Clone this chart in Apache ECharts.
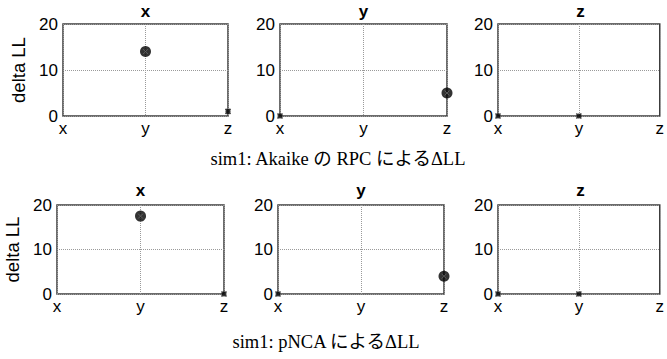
<!DOCTYPE html>
<html><head><meta charset="utf-8">
<script src="https://cdn.jsdelivr.net/npm/echarts@6/dist/echarts.min.js"></script>
<style>html,body{margin:0;padding:0;background:#fff}#c{width:667px;height:359px}</style>
</head><body><div id="c"></div>
<script>
const categories = ['x', 'y', 'z'];
const panelTitles = ['x', 'y', 'z'];
const yTicks = [0, 10, 20];
const captions = ['sim1: Akaike の RPC による\u0394LL', 'sim1: pNCA による\u0394LL'];
// delta LL per panel (row 1: Akaike RPC, row 2: pNCA); null = no point
const akaikeX = [null, 14, 1];
const akaikeY = [0, null, 5];
const akaikeZ = [0, 0, null];
const pncaX = [null, 17.5, 0];
const pncaY = [0, null, 4];
const pncaZ = [0, 0, null];
// significant points (drawn as big circles)
const akaikeSig = [[false, true, false], [false, false, true], [false, false, false]];
const pncaSig = [[false, true, false], [false, false, true], [false, false, false]];

const rows = [
  { data: [akaikeX, akaikeY, akaikeZ], sig: akaikeSig, lefts: [63, 280, 498], widths: [165, 167, 165], top: 24, height: 92, titleY: 11, capY: 159, capX: 338 },
  { data: [pncaX, pncaY, pncaZ], sig: pncaSig, lefts: [57, 278, 498], widths: [167, 166, 165], top: 205, height: 89, titleY: 190, capX: 326, capY: 342 }
];

const grids = [], xAxes = [], yAxes = [], series = [], graphics = [];
const font = 'Liberation Sans, Arial, sans-serif';
const crossPath = 'path://M0,0L10,10M10,0L0,10M5,0L5,10M0,5L10,5';
rows.forEach((r, ri) => {
  for (let p = 0; p < 3; p++) {
    const gi = grids.length;
    grids.push({ left: r.lefts[p], top: r.top, width: r.widths[p], height: r.height, show: true, borderColor: '#3c3c3c', borderWidth: 1.5, backgroundColor: '#fff' });
    xAxes.push({ type: 'category', gridIndex: gi, data: categories, boundaryGap: false,
      axisLine: { show: false }, axisTick: { show: false },
      axisLabel: { fontSize: 17, color: '#000', fontFamily: font, margin: 4 },
      splitLine: { show: true, lineStyle: { type: 'dotted', color: '#9a9a9a', width: 1 } } });
    yAxes.push({ type: 'value', gridIndex: gi, min: 0, max: 20, interval: 10,
      axisLine: { show: false }, axisTick: { show: false },
      axisLabel: { fontSize: 17, color: '#000', fontFamily: font, margin: 5, customValues: yTicks },
      splitLine: { show: true, lineStyle: { type: 'dotted', color: '#9a9a9a', width: 1 } },
      name: p === 0 ? 'delta LL' : '', nameLocation: 'middle', nameGap: 35,
      nameTextStyle: { fontSize: 18.5, color: '#000', fontFamily: font } });
    const vals = r.data[p];
    const small = [], big = [];
    vals.forEach((v, i) => {
      if (v === null) return;
      (r.sig[p][i] ? big : small).push([categories[i], v]);
    });
    series.push({ type: 'scatter', xAxisIndex: gi, yAxisIndex: gi, data: big, clip: false,
      symbol: 'circle', symbolSize: 11, itemStyle: { color: '#000' }, z: 3 });
    series.push({ type: 'scatter', xAxisIndex: gi, yAxisIndex: gi, data: big, clip: false,
      symbol: 'path://M0,0L10,10M10,0L0,10', symbolSize: 5, itemStyle: { color: 'none', borderColor: '#666', borderWidth: 1 }, z: 4 });
    series.push({ type: 'scatter', xAxisIndex: gi, yAxisIndex: gi, data: small, clip: false,
      symbol: crossPath, symbolSize: 5, itemStyle: { color: 'none', borderColor: '#000', borderWidth: 1.6 }, z: 4 });
    graphics.push({ type: 'text', x: r.lefts[p] + r.widths[p] / 2, y: r.titleY,
      style: { text: panelTitles[p], fontSize: 17, fontWeight: 'bold', fontFamily: font, fill: '#000', textAlign: 'center', textVerticalAlign: 'middle' } });
  }
  graphics.push({ type: 'text', x: r.capX, y: r.capY,
    style: { text: captions[ri], fontSize: 18.5, fontFamily: 'Liberation Serif, Times New Roman, Noto Sans CJK JP, serif', fill: '#000', textAlign: 'center', textVerticalAlign: 'middle' } });
});

const chart = echarts.init(document.getElementById('c'), null, { renderer: 'svg' });
chart.setOption({ animation: false, grid: grids, xAxis: xAxes, yAxis: yAxes, series: series, graphic: graphics });
</script></body></html>
